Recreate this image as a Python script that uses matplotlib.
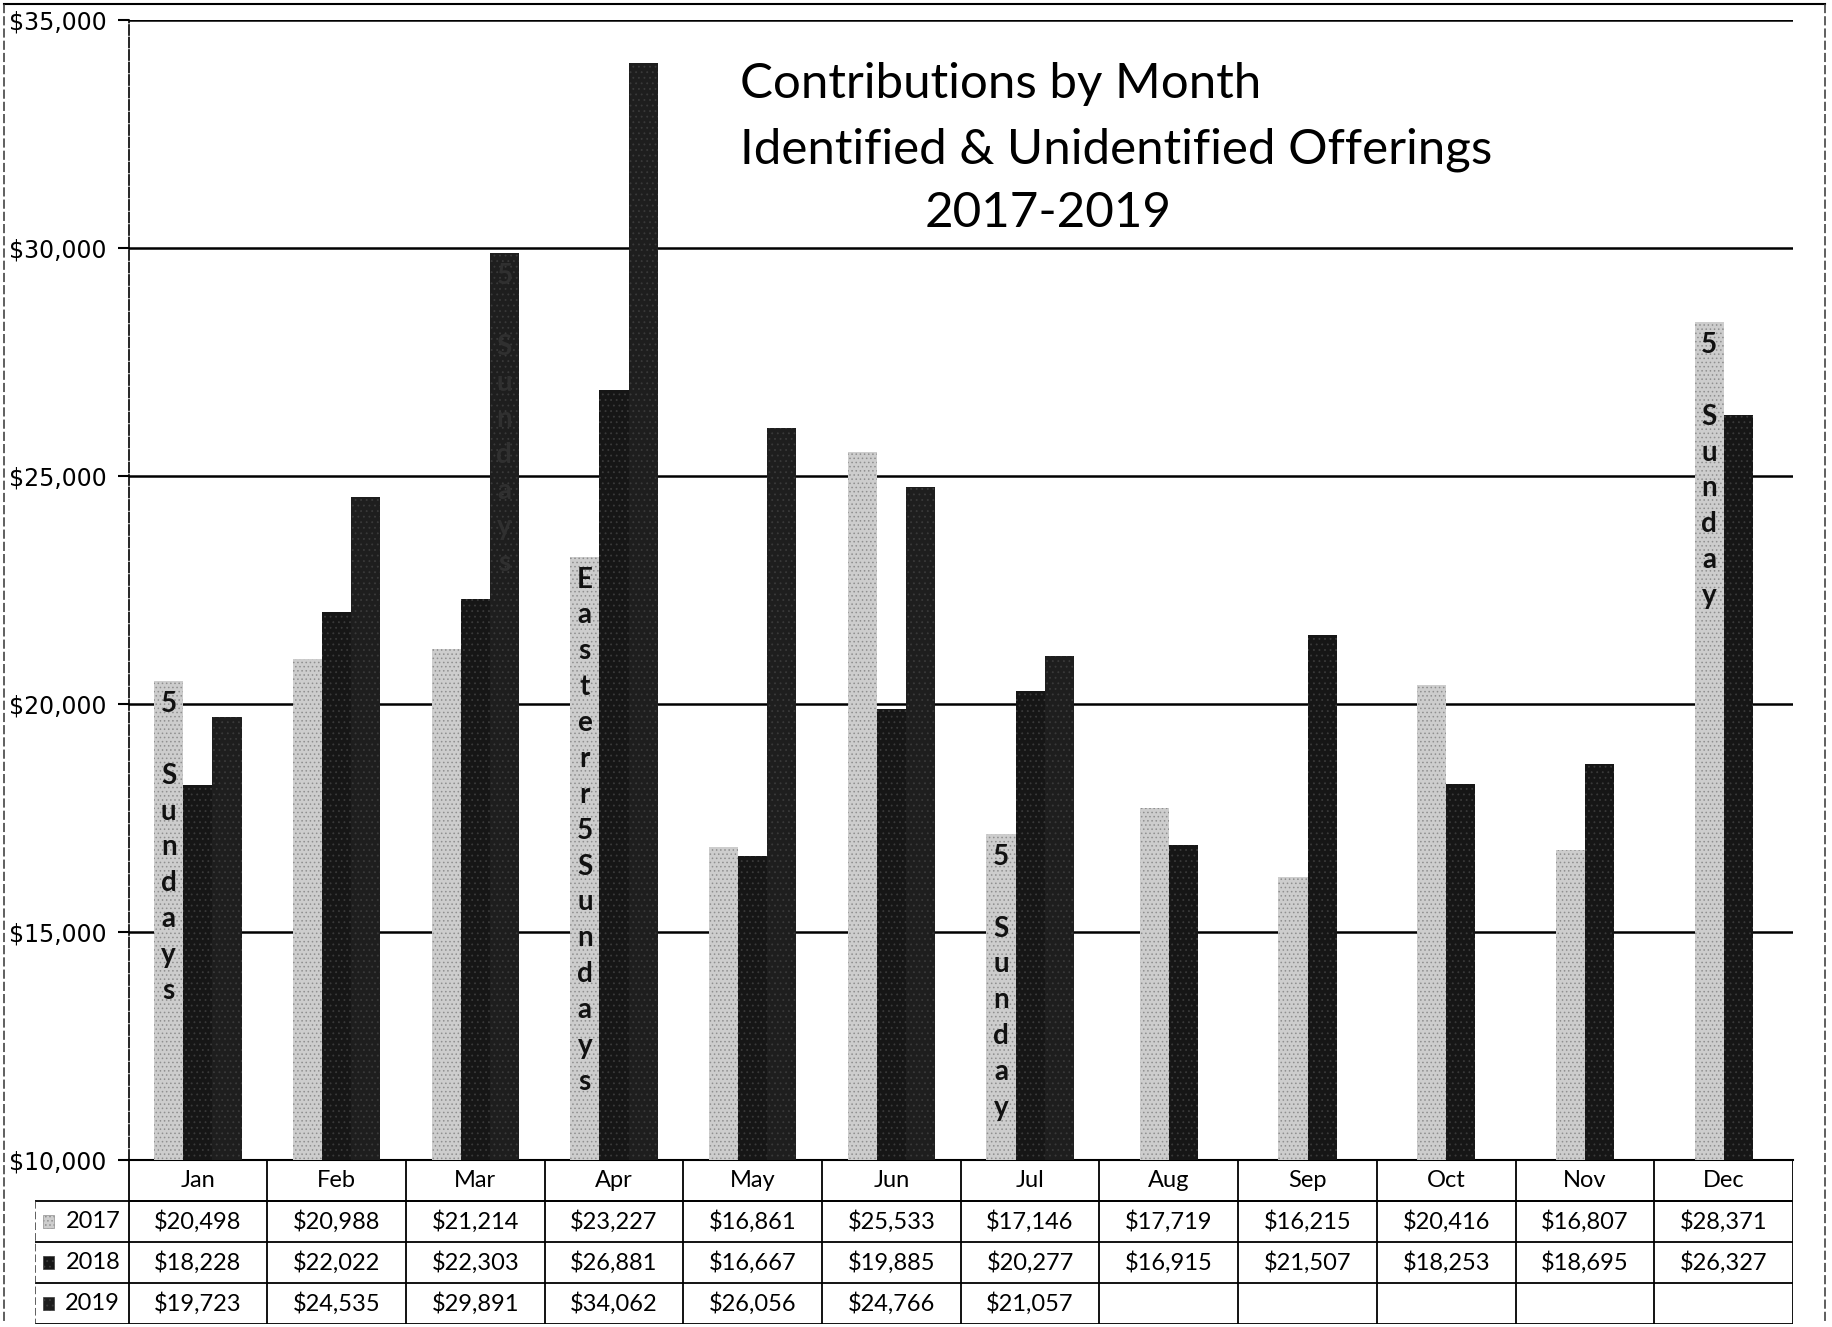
import matplotlib
matplotlib.use("Agg")
import matplotlib.pyplot as plt
from matplotlib.patches import Rectangle
from matplotlib.lines import Line2D
import numpy as np

months = ["Jan", "Feb", "Mar", "Apr", "May", "Jun", "Jul", "Aug", "Sep", "Oct", "Nov", "Dec"]
years = ["2017", "2018", "2019"]
v2017 = [20498, 20988, 21214, 23227, 16861, 25533, 17146, 17719, 16215, 20416, 16807, 28371]
v2018 = [18228, 22022, 22303, 26881, 16667, 19885, 20277, 16915, 21507, 18253, 18695, 26327]
v2019 = [19723, 24535, 29891, 34062, 26056, 24766, 21057]
yticks = [10000, 15000, 20000, 25000, 30000, 35000]
title_lines = ["Contributions by Month", "Identified & Unidentified Offerings", "2017-2019"]
# (month index, series index, text) notes written inside bars
notes = [(0, 0, "5 Sundays"), (3, 0, "Easterr5Sundays"), (6, 0, "5 Sunday"), (11, 0, "5 Sunday")]
faint_notes = [(2, 2, "5 Sundays")]

W, H = 1832, 1327
fig = plt.figure(figsize=(W / 100, H / 100), dpi=100)
fig.patch.set_facecolor("white")

def fx(px):
    return px / W

def fy(py):
    return 1 - py / H

ax_l, ax_r, ax_t, ax_b = 128.5, 1793, 20, 1160
ax = fig.add_axes([fx(ax_l), fy(ax_b), fx(ax_r) - fx(ax_l), fy(ax_t) - fy(ax_b)])
ax.set_xlim(-0.5, 11.5)
ax.set_ylim(10000, 35000)

series = [v2017, v2018, v2019]
face = ["#cdcdcd", "#161616", "#1e1e1e"]
hatchc = ["#8f8f8f", "#3a3a3a", "#3a3a3a"]
hatches = ["....", "...", "..."]
plt.rcParams["hatch.linewidth"] = 0.6
bw = 0.21
containers = []
for si, vals in enumerate(series):
    xs = []
    for mi in range(len(vals)):
        n = sum(1 for s in series if len(s) > mi)
        offs = (np.arange(n) - (n - 1) / 2) * bw
        xs.append(mi + offs[si])
    bc = ax.bar(xs, vals, width=bw, color=face[si], edgecolor=hatchc[si], linewidth=0,
                hatch=hatches[si], zorder=3)
    containers.append(bc)

for y in yticks[1:]:
    ax.axhline(y, color="black", lw=1.8, zorder=1)

ax.set_yticks(yticks)
ax.set_yticklabels(["${:,}".format(v) for v in yticks], fontsize=17, family="DejaVu Sans")
ax.tick_params(axis="y", length=8, width=1.5, pad=8, direction="out")
ax.set_xticks([])
for s in ["top", "right"]:
    ax.spines[s].set_visible(False)
ax.spines["left"].set_linestyle((0, (6, 1.5)))
ax.spines["left"].set_linewidth(1.2)
ax.spines["bottom"].set_linewidth(1.5)

def put_note(mi, si, text, color):
    bar = containers[si][mi]
    x = bar.get_x() + bar.get_width() / 2
    top = bar.get_height()
    stacked = "\n".join(list(text)).replace(" ", "")
    ax.annotate(stacked, xy=(x, top), xytext=(0, -7), textcoords="offset points",
                ha="center", va="top", fontsize=20, family="Lato", fontweight="bold",
                color=color, linespacing=1.47, zorder=5)

for mi, si, t in notes:
    put_note(mi, si, t, "#111111")
for mi, si, t in faint_notes:
    put_note(mi, si, t, "#303030")

# title
tf = dict(fontsize=35.5, family="Lato", va="baseline")
fig.text(fx(740), fy(98), title_lines[0], ha="left", **tf)
fig.text(fx(740), fy(164), title_lines[1], ha="left", **tf)
fig.text(fx(1048), fy(227), title_lines[2], ha="center", **tf)

# data table below axis
tb_l, tb_b = 35, 1324
cat_w = (ax_r - ax_l) / 12
tab = fig.add_axes([fx(tb_l), fy(tb_b), fx(ax_r) - fx(tb_l), fy(ax_b) - fy(tb_b)])
tab.set_xlim(-0.5 - (ax_l - tb_l) / cat_w, 11.5)
tab.set_ylim(4, 0)
tab.axis("off")
xl = tab.get_xlim()[0]
lk = dict(color="black", lw=1.3)
tab.plot([-0.5, 11.5], [1, 1], **lk)
for r in [1, 2, 3, 4]:
    tab.plot([xl, 11.5], [r, r], **lk)
for i in range(13):
    tab.plot([i - 0.5, i - 0.5], [0, 4], **lk)
tab.plot([xl, xl], [1, 4], color="#333333", lw=1.1, linestyle=(0, (5, 2)))

tfont = dict(fontsize=17, family="Lato", ha="center", va="center")
for mi, m in enumerate(months):
    tab.text(mi, 0.5, m, **tfont)
for si, vals in enumerate(series):
    for mi, v in enumerate(vals):
        tab.text(mi, si + 1.5, "${:,}".format(v), **tfont)
    tab.text(-0.5 - 0.06, si + 1.5, years[si], fontsize=17, family="Lato", ha="right", va="center")
    kx = xl + 0.06
    tab.add_patch(Rectangle((kx, si + 1.5 - 0.17), 0.075, 0.34, facecolor=face[si],
                            edgecolor=hatchc[si], hatch=hatches[si], lw=0.5))

# outer frame
fig.add_artist(Line2D([fx(4), fx(1825)], [fy(4), fy(4)], color="black", lw=1.5))
fig.add_artist(Line2D([fx(4), fx(4)], [fy(4), fy(1324)], color="#333333", lw=1.1,
                      linestyle=(0, (6, 2))))
fig.add_artist(Line2D([fx(1825), fx(1825)], [fy(4), fy(1324)], color="#333333", lw=1.1,
                      linestyle=(0, (6, 2))))

fig.savefig("out.png", dpi=100, facecolor="white")
